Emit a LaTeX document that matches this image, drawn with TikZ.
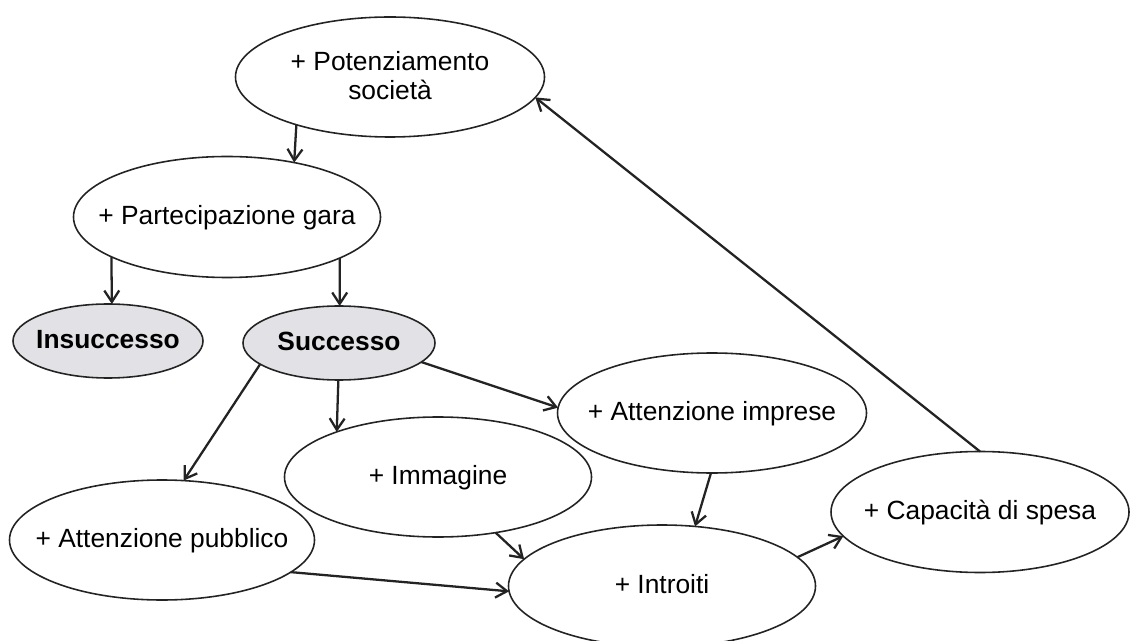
\documentclass[tikz,border=0pt]{standalone}
\usepackage{fontspec}
\setmainfont{Liberation Sans}
\usepackage{tikz}
\usetikzlibrary{shapes.geometric,arrows.meta}
\definecolor{linegrey}{RGB}{35,35,35}
\definecolor{fillgrey}{RGB}{226,226,230}
% text of zero size, so the ellipse keeps its own size
\newcommand{\bubtext}[1]{\makebox[0pt]{\smash{\raisebox{-4.8pt}{\begin{tabular}{@{}c@{}}#1\end{tabular}}}}}

\begin{document}
\begin{tikzpicture}[x=0.02cm,y=-0.02cm,
  bubble/.style={ellipse,draw=linegrey,line width=0.9pt,inner sep=0pt,outer sep=0pt,
    font=\fontsize{15}{16.5}\selectfont},
  greybubble/.style={bubble,fill=fillgrey,font=\fontsize{15}{16.5}\selectfont\bfseries},
  dims/.style 2 args={minimum width=#1*0.02cm,minimum height=#2*0.02cm},
  arr/.style={draw=linegrey,line width=1.3pt,-{Straight Barb[length=6.5pt,width=8.5pt]}}]
\useasboundingbox (0,0) rectangle (1131,641);
% nodes
\node[bubble,dims={309}{120}] (pot) at (390,77) {\bubtext{+ Potenziamento\\società}};
\node[bubble,dims={307}{121}] (part) at (227,217) {\bubtext{+ Partecipazione gara}};
\node[greybubble,dims={190}{74}] (insu) at (108,341) {\bubtext{Insuccesso}};
\node[greybubble,dims={192}{74}] (succ) at (339,343) {\bubtext{Successo}};
\node[bubble,dims={309}{120}] (imp) at (712,413) {\bubtext{+ Attenzione imprese}};
\node[bubble,dims={307}{120}] (imm) at (438,477) {\bubtext{+ Immagine}};
\node[bubble,dims={305}{120}] (pub) at (162,540) {\bubtext{+ Attenzione pubblico}};
\node[bubble,dims={307}{122}] (intr) at (662,586) {\bubtext{+ Introiti}};
\node[bubble,dims={298}{121}] (cap) at (980,512) {\bubtext{+ Capacità di spesa}};
% arrows
\draw[arr] (pot.207) -- (part.39);
\draw[arr] (part.199) -- (insu.84);
\draw[arr] (part.-20) -- (succ.89);
\draw[arr] (succ.195) -- (pub.70);
\draw[arr] (succ.269) -- (imm.156);
\draw[arr] (succ.-13) -- (imp.178);
\draw[arr] (imm.-44) -- (intr.169);
\draw[arr] (pub.-14) -- (intr.182);
\draw[arr] (imp.269) -- (intr.61);
\draw[arr] (intr.12) -- (cap.190);
\draw[arr] (cap.90) -- (pot.-8);
\end{tikzpicture}
\end{document}
